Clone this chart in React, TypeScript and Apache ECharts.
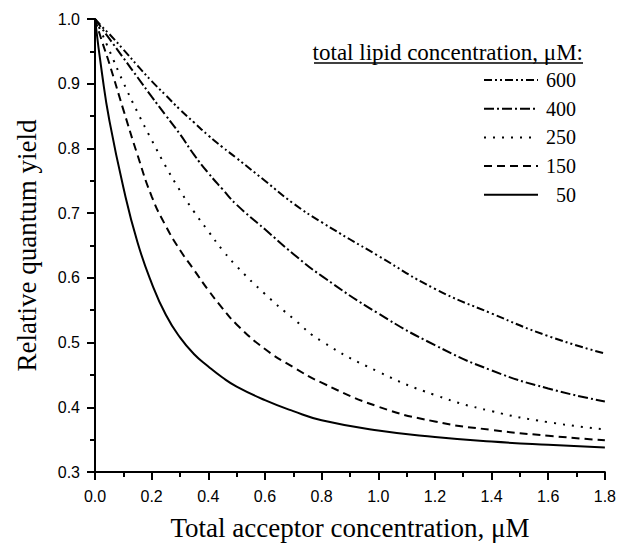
import React, { useEffect, useRef } from "react";
import * as echarts from "echarts";

const xValues = [0, 0.025, 0.05, 0.1, 0.15, 0.2, 0.25, 0.3, 0.35, 0.4, 0.45, 0.5, 0.6, 0.7, 0.8, 1.0, 1.2, 1.4, 1.6, 1.8];
const y600 = [1.0, 0.988, 0.977, 0.953, 0.928, 0.904, 0.882, 0.86, 0.84, 0.82, 0.802, 0.785, 0.75, 0.715, 0.686, 0.634, 0.583, 0.545, 0.51, 0.483];
const y400 = [1.0, 0.985, 0.97, 0.94, 0.91, 0.88, 0.851, 0.822, 0.79, 0.762, 0.737, 0.713, 0.675, 0.637, 0.603, 0.545, 0.496, 0.457, 0.429, 0.409];
const y250 = [1.0, 0.977, 0.952, 0.902, 0.856, 0.813, 0.772, 0.735, 0.702, 0.672, 0.643, 0.618, 0.575, 0.537, 0.502, 0.455, 0.419, 0.394, 0.377, 0.366];
const y150 = [1.0, 0.965, 0.932, 0.86, 0.79, 0.726, 0.68, 0.643, 0.612, 0.581, 0.553, 0.528, 0.49, 0.462, 0.438, 0.401, 0.378, 0.365, 0.356, 0.349];
const y50 = [1.0, 0.915, 0.845, 0.74, 0.655, 0.592, 0.543, 0.508, 0.482, 0.463, 0.446, 0.432, 0.411, 0.394, 0.38, 0.364, 0.354, 0.347, 0.342, 0.338];

const legendTitle = "total lipid concentration, \u03bcM:";
const seriesNames = ["600", "400", "250", "150", "50"];
const seriesValues = [y600, y400, y250, y150, y50];
const dashes: (number[] | string)[] = [
  [8, 3, 2, 3, 2, 3],
  [10, 3, 2, 3],
  [2, 7],
  [8, 5],
  "solid",
];

const xTitle = "Total acceptor concentration, \u03bcM";
const yTitle = "Relative quantum yield";

export default function App() {
  const ref = useRef<HTMLDivElement>(null);
  useEffect(() => {
    if (!ref.current) return;
    const chart = echarts.init(ref.current, null, { renderer: "svg" });
    const serif = "'Liberation Serif', 'Times New Roman', serif";
    const sans = "'Liberation Sans', Arial, sans-serif";
    const series = seriesNames.map((name, i) => ({
      name,
      type: "line",
      data: xValues.map((x, j) => [x, seriesValues[i][j]]),
      showSymbol: false,
      smooth: 0.5,
      lineStyle: { color: "#000", width: 2, type: dashes[i] as any },
      itemStyle: { color: "#000" },
    }));
    const legendItems: any[] = [];
    const rowY0 = 80;
    const rowStep = 28.7;
    seriesNames.forEach((name, i) => {
      const cy = rowY0 + i * rowStep;
      legendItems.push({
        type: "line",
        shape: { x1: 484, y1: cy, x2: 538, y2: cy },
        style: { stroke: "#000", lineWidth: 2, lineDash: dashes[i] === "solid" ? null : dashes[i] },
      });
      legendItems.push({
        type: "text",
        x: 576,
        y: cy,
        style: { text: name, font: `20px ${serif}`, fill: "#000", align: "right", verticalAlign: "middle" },
      });
    });
    chart.setOption({
      animation: false,
      grid: { left: 95, right: 14, top: 19, bottom: 72 },
      xAxis: {
        type: "value",
        min: 0,
        max: 1.8,
        interval: 0.2,
        name: xTitle,
        nameLocation: "middle",
        nameGap: 42,
        nameTextStyle: { fontFamily: serif, fontSize: 27, color: "#000" },
        axisLine: { show: true, lineStyle: { color: "#000", width: 2 } },
        axisTick: { show: true, inside: false, length: 8, lineStyle: { color: "#000", width: 2 } },
        minorTick: { show: true, splitNumber: 2, length: 5, lineStyle: { color: "#000", width: 2 } },
        splitLine: { show: false },
        axisLabel: {
          fontFamily: sans,
          fontSize: 16,
          color: "#000",
          margin: 16,
          formatter: (v: number) => v.toFixed(1),
        },
      },
      yAxis: {
        type: "value",
        min: 0.3,
        max: 1.0,
        interval: 0.1,
        name: yTitle,
        nameLocation: "middle",
        nameGap: 55,
        nameTextStyle: { fontFamily: serif, fontSize: 27, color: "#000" },
        axisLine: { show: true, lineStyle: { color: "#000", width: 2 } },
        axisTick: { show: true, inside: false, length: 8, lineStyle: { color: "#000", width: 2 } },
        minorTick: { show: true, splitNumber: 2, length: 5, lineStyle: { color: "#000", width: 2 } },
        splitLine: { show: false },
        axisLabel: {
          fontFamily: sans,
          fontSize: 16,
          color: "#000",
          margin: 15,
          formatter: (v: number) => v.toFixed(1),
        },
      },
      graphic: [
        {
          type: "text",
          x: 583,
          y: 52,
          style: { text: legendTitle, font: `23px ${serif}`, fill: "#000", align: "right", verticalAlign: "middle" },
        },
        {
          type: "line",
          shape: { x1: 314, y1: 63, x2: 583, y2: 63 },
          style: { stroke: "#000", lineWidth: 1.5 },
        },
        ...legendItems,
      ],
      series,
    });
    return () => chart.dispose();
  }, []);
  return (
    <div
      ref={ref}
      style={{ position: "absolute", left: 0, top: 0, width: 619, height: 546, background: "#fff" }}
    />
  );
}
